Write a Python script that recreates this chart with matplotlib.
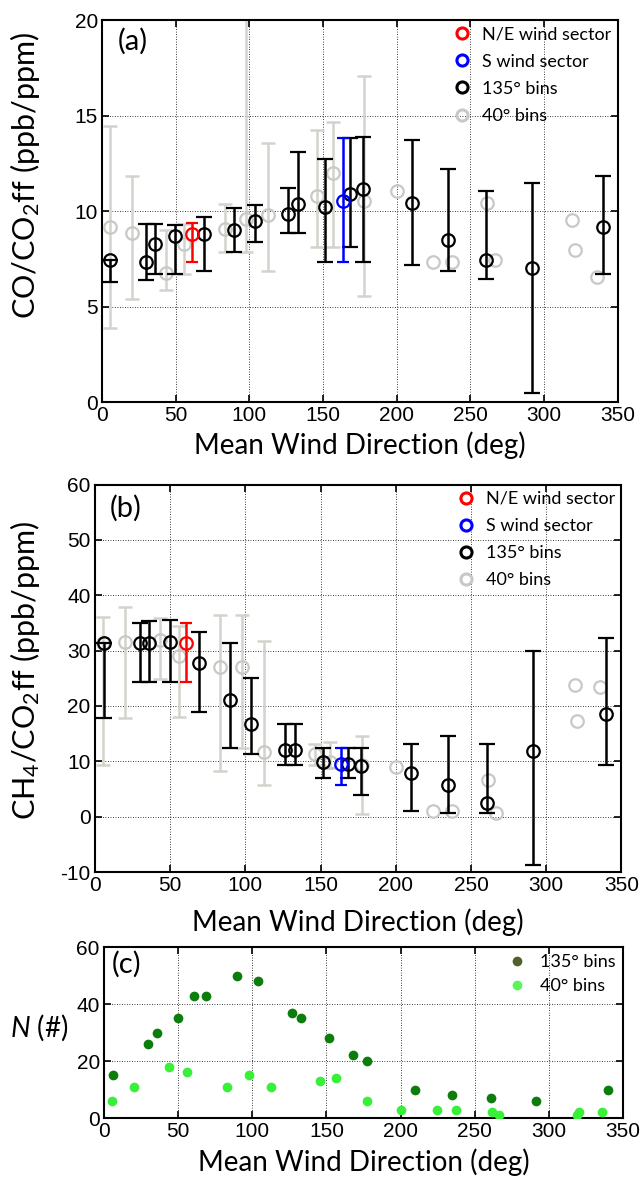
import numpy as np
import matplotlib
matplotlib.use("Agg")
import matplotlib.pyplot as plt
from matplotlib.lines import Line2D

plt.rcParams['font.family'] = ['Liberation Sans', 'DejaVu Sans']
plt.rcParams['mathtext.fontset'] = 'custom'
plt.rcParams['mathtext.rm'] = 'Lato'
plt.rcParams['mathtext.it'] = 'Lato:italic'
plt.rcParams['axes.unicode_minus'] = False

LBL_FONT = 'Lato'

# ---------------- data ----------------
# 135 degree bins (index 4 is the N/E wind sector, drawn red)
x135 = [5.8, 29.7, 35.7, 49.7, 60.8, 69.0, 89.5, 104.0, 126.5, 132.9, 151.5,
        168.0, 177.2, 210.0, 235.0, 260.7, 291.5, 340.0]
red_idx = 4
# S wind sector
xS = [163.3]

# 40 degree bins
x40 = [5.5, 20.3, 43.6, 56.0, 83.2, 98.0, 112.6, 146.0, 156.6, 177.6, 200.0,
       224.7, 237.5, 261.5, 266.7, 319.0, 320.6, 336.0]

# (a) CO/CO2ff
co135 = [7.43, 7.35, 8.30, 8.70, 8.80, 8.80, 9.00, 9.48, 9.84, 10.35, 10.20,
         10.90, 11.15, 10.43, 8.46, 7.43, 7.03, 9.15]
co135_lo = [6.28, 6.37, 6.70, 6.70, 7.33, 6.87, 7.84, 8.39, 8.83, 8.83, 7.33,
            8.13, 7.33, 7.17, 6.87, 6.42, 0.49, 6.70]
co135_hi = [7.43, 9.30, 9.30, 9.26, 9.40, 9.70, 10.15, 10.30, 11.20, 13.10, 12.70,
            13.85, 13.90, 13.70, 12.20, 11.06, 11.45, 11.85]
coS, coS_lo, coS_hi = [10.5], [7.33], [13.85]
co40 = [9.18, 8.86, 6.74, 8.30, 9.04, 9.60, 9.79, 10.78, 11.97, 10.50, 11.06,
        7.31, 7.31, 10.40, 7.43, 9.53, 7.96, 6.53]
co40_lo = [3.89, 5.39, 5.85, 6.70, 7.84, 7.84, 6.87, 8.13, 8.13, 5.55]
co40_hi = [14.45, 11.85, 9.00, 9.30, 10.35, 21.00, 13.55, 14.24, 14.68, 17.07]

# (b) CH4/CO2ff
ch135 = [31.3, 31.4, 31.4, 31.6, 31.4, 27.8, 21.1, 16.7, 12.0, 12.0, 9.9,
         9.5, 9.1, 7.9, 5.7, 2.4, 11.9, 18.5]
ch135_lo = [17.75, 24.4, 24.4, 24.4, 24.4, 18.95, 12.45, 11.25, 9.3, 9.3, 6.9,
            6.9, 3.9, 1.05, 0.6, 0.6, -8.8, 9.3]
ch135_hi = [31.3, 34.9, 35.35, 35.5, 34.9, 33.4, 31.4, 25.1, 16.7, 16.7, 12.45,
            12.45, 12.45, 13.1, 14.6, 13.1, 29.9, 32.3]
chS, chS_lo, chS_hi = [9.6], [5.8], [12.45]
ch40 = [31.3, 31.6, 31.9, 29.0, 27.1, 27.0, 11.7, 11.3, 9.9, 9.3, 9.0,
        1.05, 1.05, 6.7, 0.6, 23.8, 17.3, 23.5]
ch40_lo = [9.3, 17.75, 24.8, 18.05, 8.2, 12.45, 5.8, 9.3, 8.7, 0.4]
ch40_hi = [36.1, 37.95, 35.8, 34.5, 36.4, 36.4, 31.7, 13.1, 13.4, 14.6]

# (c) N
n135 = [15, 26, 30, 35, 43, 43, 50, 48, 37, 35, 28, 22, 20, 10, 8, 7, 6, 10]
n40 = [6, 11, 18, 16, 11, 15, 11, 13, 14, 6, 3, 3, 3, 2, 1, 1, 2, 2]

xticks = [0, 50, 100, 150, 200, 250, 300, 350]

# ---------------- styling ----------------
GREY_BAR = '#d4d2cc'
GREY_MK = '#c8c8c6'
DKGREEN = '#0b7d0b'
LTGREEN = '#38f038'
TICK_FS = 15
XLAB_FS = 20
YLAB_FS = 22
LEG_FS = 13
PANEL_FS = 21


def style_axes(ax):
    ax.set_xlim(0, 350)
    ax.set_xticks(xticks)
    ax.grid(True, color='black', linestyle=(0, (1, 2)), linewidth=0.6)
    ax.tick_params(direction='in', top=True, right=True, labelsize=TICK_FS,
                   length=5, width=1.2, pad=3)
    for s in ax.spines.values():
        s.set_linewidth(1.5)
    ax.set_axisbelow(True)


def asym(vals, lo, hi):
    n = len(lo)
    v = np.array(vals[:n], float)
    return np.vstack([v - np.array(lo, float), np.array(hi, float) - v])


def ratio_panel(ax, v135, lo135, hi135, vS, loS, hiS, v40, lo40, hi40):
    n = len(lo40)
    # 40 deg bins with error bars
    ax.errorbar(x40[:n], v40[:n], yerr=asym(v40, lo40, hi40), fmt='none',
                ecolor=GREY_BAR, elinewidth=1.8, capsize=5, capthick=1.8, zorder=2)
    ax.plot(x40, v40, 'o', mfc='none', mec=GREY_MK, ms=9, mew=1.6, zorder=3)
    # 135 deg bins
    idx = [i for i in range(len(x135)) if i != red_idx]
    xb = [x135[i] for i in idx]
    vb = [v135[i] for i in idx]
    lb = [lo135[i] for i in idx]
    hb = [hi135[i] for i in idx]
    ax.errorbar(xb, vb, yerr=asym(vb, lb, hb), fmt='o', mfc='none', mec='black',
                ms=9, mew=1.6, ecolor='black', elinewidth=1.8, capsize=6,
                capthick=1.8, zorder=4)
    ax.errorbar([x135[red_idx]], [v135[red_idx]],
                yerr=asym([v135[red_idx]], [lo135[red_idx]], [hi135[red_idx]]),
                fmt='o', mfc='none', mec='red', ms=9, mew=1.6, ecolor='red',
                elinewidth=1.8, capsize=4, capthick=1.8, zorder=5)
    ax.errorbar(xS, vS, yerr=asym(vS, loS, hiS), fmt='o', mfc='none', mec='blue',
                ms=9, mew=1.6, ecolor='blue', elinewidth=1.8, capsize=4,
                capthick=1.8, zorder=5)
    handles = [Line2D([], [], ls='none', marker='o', mfc='none', mec=c, ms=8, mew=2.2)
               for c in ['red', 'blue', 'black', GREY_MK]]
    labels = ['N/E wind sector', 'S wind sector', '135° bins', '40° bins']
    ax.legend(handles, labels, loc='upper right', frameon=False,
              prop={'family': LBL_FONT, 'size': LEG_FS}, handlelength=0.8,
              handletextpad=0.7, labelspacing=0.62, borderaxespad=0.15,
              borderpad=0.2)


fig = plt.figure(figsize=(6.41, 11.80), dpi=100)

# ---- (a)
axa = fig.add_axes([0.159, 0.6593, 0.805, 0.3237])
style_axes(axa)
axa.set_ylim(0, 20)
axa.set_yticks([0, 5, 10, 15, 20])
ratio_panel(axa, co135, co135_lo, co135_hi, coS, coS_lo, coS_hi, co40, co40_lo, co40_hi)
axa.set_xlabel('Mean Wind Direction (deg)', family=LBL_FONT, fontsize=XLAB_FS)
axa.set_ylabel('CO/CO$_2$ff (ppb/ppm)', family=LBL_FONT, fontsize=YLAB_FS)
axa.xaxis.set_label_coords(0.5, -0.076)
axa.yaxis.set_label_coords(-0.116, 0.594)
axa.text(0.031, 0.979, '(a)', transform=axa.transAxes, ha='left', va='top',
         family=LBL_FONT, fontsize=PANEL_FS)

# ---- (b)
axb = fig.add_axes([0.148, 0.261, 0.8214, 0.3284])
style_axes(axb)
axb.set_ylim(-10, 60)
axb.set_yticks([-10, 0, 10, 20, 30, 40, 50, 60])
ratio_panel(axb, ch135, ch135_lo, ch135_hi, chS, chS_lo, chS_hi, ch40, ch40_lo, ch40_hi)
axb.set_xlabel('Mean Wind Direction (deg)', family=LBL_FONT, fontsize=XLAB_FS)
axb.set_ylabel('CH$_4$/CO$_2$ff (ppb/ppm)', family=LBL_FONT, fontsize=YLAB_FS)
axb.xaxis.set_label_coords(0.5, -0.093)
axb.yaxis.set_label_coords(-0.10, 0.52)
axb.text(0.028, 0.973, '(b)', transform=axb.transAxes, ha='left', va='top',
         family=LBL_FONT, fontsize=PANEL_FS)

# ---- (c)
axc = fig.add_axes([0.1622, 0.0525, 0.8097, 0.1449])
style_axes(axc)
axc.set_ylim(0, 60)
axc.set_yticks([0, 20, 40, 60])
axc.plot(x135, n135, 'o', color=DKGREEN, ms=7, mew=0, zorder=4)
axc.plot(x40, n40, 'o', color=LTGREEN, ms=7, mew=0, zorder=3)
hc = [Line2D([], [], ls='none', marker='o', color='#4f6228', ms=7, mew=0),
      Line2D([], [], ls='none', marker='o', color='#5cf25c', ms=7, mew=0)]
axc.legend(hc, ['135° bins', '40° bins'], loc='upper right', frameon=False,
           prop={'family': LBL_FONT, 'size': LEG_FS}, handlelength=0.8,
           handletextpad=0.9, labelspacing=0.45, borderaxespad=0.2, borderpad=0.2)
axc.set_xlabel('Mean Wind Direction (deg)', family=LBL_FONT, fontsize=XLAB_FS)
axc.set_ylabel('$\\it{N}$ (#)', family=LBL_FONT, fontsize=20, rotation=0,
               va='center', ha='center')
axc.xaxis.set_label_coords(0.5, -0.175)
axc.yaxis.set_label_coords(-0.125, 0.53)
axc.text(0.015, 0.977, '(c)', transform=axc.transAxes, ha='left', va='top',
         family=LBL_FONT, fontsize=PANEL_FS)

fig.savefig('out.png', dpi=100)
